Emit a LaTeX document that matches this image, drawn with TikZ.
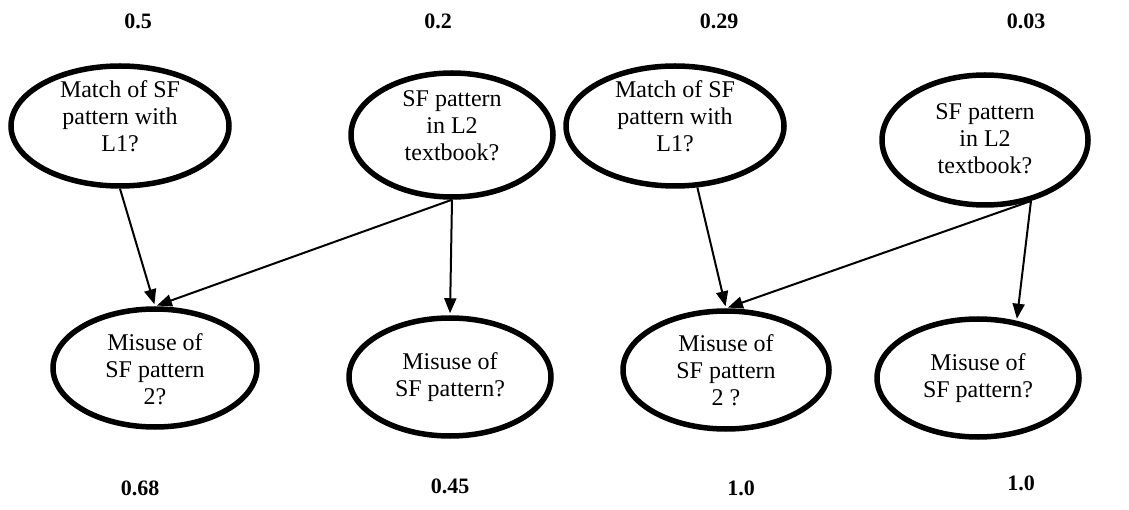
\documentclass[tikz,border=0pt]{standalone}
\usepackage{fontspec}
\setmainfont{Liberation Serif}
\usetikzlibrary{shapes.geometric,arrows.meta}
\newcommand\ovtext[2]{\raisebox{#1}[0pt][0pt]{\begin{tabular}{@{}c@{}}#2\end{tabular}}}
\begin{document}
\begin{tikzpicture}[x=1pt,y=-1pt,
  oval/.style={ellipse,draw=black,line width=5.5pt,inner sep=0pt,
    font=\fontsize{24}{27}\selectfont},
  num/.style={font=\fontsize{22}{26}\selectfont\bfseries},
  link/.style={line width=2pt,-{Triangle[length=15pt,width=12pt]},shorten >=2pt}]
\fill[white] (0,0) rectangle (1129,510);
\useasboundingbox (0,0) rectangle (1129,510);
% top probabilities
\node[num] (p1) at (138,21) {0.5};
\node[num] (p2) at (438,21) {0.2};
\node[num] (p3) at (719,21) {0.29};
\node[num] (p4) at (1026,21) {0.03};
% bottom probabilities
\node[num] (q1) at (140,488) {0.68};
\node[num] (q2) at (450,486) {0.45};
\node[num] (q3) at (741,488) {1.0};
\node[num] (q4) at (1021,483) {1.0};
% top nodes
\node[oval,minimum width=218pt,minimum height=120pt] (e1) at (120,126) {\ovtext{1pt}{Match of SF\\pattern with\\L1?}};
\node[oval,minimum width=202pt,minimum height=124pt] (e2) at (452,135) {\ovtext{1pt}{SF pattern\\in L2\\textbook?}};
\node[oval,minimum width=218pt,minimum height=120pt] (e3) at (675,126) {\ovtext{1pt}{Match of SF\\pattern with\\L1?}};
\node[oval,minimum width=206pt,minimum height=130pt] (e4) at (985,140) {\ovtext{-7pt}{SF pattern\\in L2\\textbook?}};
% bottom nodes
\node[oval,minimum width=204pt,minimum height=118pt] (b1) at (155,368) {\ovtext{-10pt}{Misuse of\\SF pattern\\2?}};
\node[oval,minimum width=202pt,minimum height=118pt] (b2) at (450,377) {\ovtext{-7pt}{Misuse of\\SF pattern?}};
\node[oval,minimum width=206pt,minimum height=118pt] (b3) at (726,370) {\ovtext{-9pt}{Misuse of\\SF pattern\\2 ?}};
\node[oval,minimum width=202pt,minimum height=118pt] (b4) at (978,378) {\ovtext{-7pt}{Misuse of\\SF pattern?}};
% connectors
\draw[link] (e1.south) -- (b1.north);
\draw[link] (e2.south) -- (b1.north);
\draw[link] (e2.south) -- (b2.north);
\draw[link] (e3.-70) -- (b3.north);
\draw[link] (e4.-53) -- (b3.north);
\draw[link] (e4.-53) -- (b4.56);
\end{tikzpicture}
\end{document}
